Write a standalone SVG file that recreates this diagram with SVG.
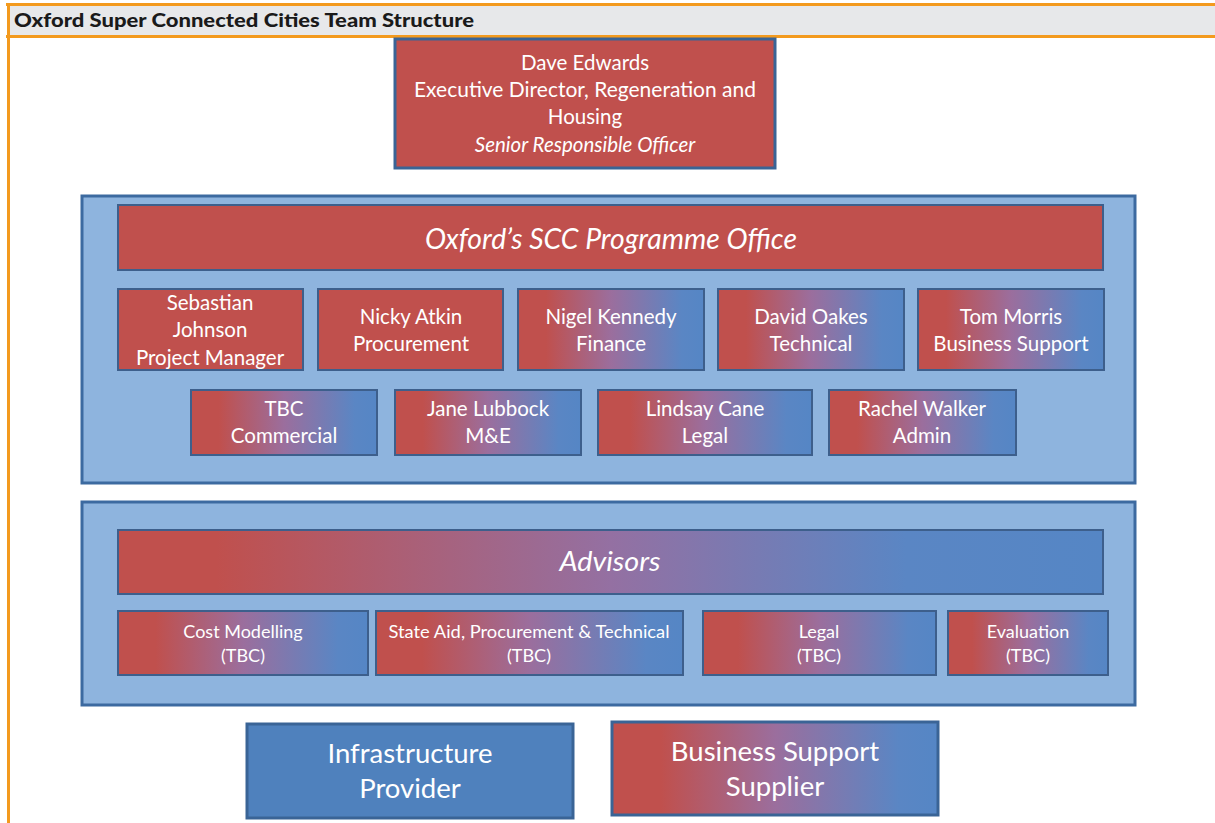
<svg xmlns="http://www.w3.org/2000/svg" width="1215" height="823" viewBox="0 0 1215 823">
<defs>
<linearGradient id="rb" x1="0" y1="0" x2="1" y2="0">
<stop offset="0" stop-color="#c0504d"/>
<stop offset="0.15" stop-color="#c0504d"/>
<stop offset="0.5" stop-color="#9b6e9d"/>
<stop offset="0.88" stop-color="#5a86c4"/>
<stop offset="1" stop-color="#5586c5"/>
</linearGradient>
<linearGradient id="rbwide" x1="0" y1="0" x2="1" y2="0">
<stop offset="0" stop-color="#c0504d"/>
<stop offset="0.1" stop-color="#c0504d"/>
<stop offset="0.5" stop-color="#9470a2"/>
<stop offset="0.8" stop-color="#5a86c4"/>
<stop offset="1" stop-color="#5586c5"/>
</linearGradient>
</defs>
<style>
.panel{fill:#8eb4de;stroke:#3c6aa0;stroke-width:3}
.red{fill:#c0504d;stroke:#3d5f8c;stroke-width:2}
.grad{fill:url(#rb);stroke:#3d5f8c;stroke-width:2}
.blue{fill:#4f81bd;stroke:#3a6496;stroke-width:3}
text{font-family:Lato,"Open Sans","Liberation Sans",sans-serif;fill:#ffffff;text-anchor:middle}
.t20{font-size:20.5px}
.t21{font-size:20.5px}
.t18{font-size:18px}
.t27{font-size:27.5px}
.it{font-style:italic}
</style>
<g id="frame">
<rect x="7" y="5" width="1210" height="31" fill="#e7e8ea"/>
<line x1="6" y1="4.5" x2="1215" y2="4.5" stroke="#f39a1e" stroke-width="3"/>
<line x1="6" y1="36.5" x2="1215" y2="36.5" stroke="#f39a1e" stroke-width="3"/>
<line x1="8.5" y1="3" x2="8.5" y2="823" stroke="#f39a1e" stroke-width="3"/>
<text x="14" y="27" style="font-size:19.5px;font-weight:900;fill:#1a1a1a;text-anchor:start" textLength="460" lengthAdjust="spacingAndGlyphs">Oxford Super Connected Cities Team Structure</text>
</g>
<g id="connectors"></g>
<g id="dave">
<rect class="red" x="395" y="39" width="380" height="129" style="stroke:#3a6496;stroke-width:3"/>
<text class="t20" x="585" y="70">Dave Edwards</text>
<text class="t20" x="585" y="97" textLength="342" lengthAdjust="spacingAndGlyphs">Executive Director, Regeneration and</text>
<text class="t20" x="585" y="124">Housing</text>
<text class="t20 it" x="585" y="152">Senior Responsible Officer</text>
</g>
<g id="programme-panel">
<rect class="panel" x="82" y="196" width="1053" height="287"/>
</g>
<g id="programme-office">
<rect class="red" x="118" y="205" width="985" height="65"/>
<text class="it" x="611" y="249" style="font-size:28px" textLength="372" lengthAdjust="spacingAndGlyphs">Oxford’s SCC Programme Office</text>
</g>
<g id="sebastian">
<rect class="red" x="118" y="289" width="185" height="81"/>
<text class="t21" x="210" y="310">Sebastian</text>
<text class="t21" x="210" y="337">Johnson</text>
<text class="t21" x="210" y="365">Project Manager</text>
</g>
<g id="nicky">
<rect class="red" x="318" y="289" width="185" height="81"/>
<text class="t21" x="411" y="324">Nicky Atkin</text>
<text class="t21" x="411" y="351">Procurement</text>
</g>
<g id="nigel">
<rect class="grad" x="518" y="289" width="186" height="81"/>
<text class="t21" x="611" y="324">Nigel Kennedy</text>
<text class="t21" x="611" y="351">Finance</text>
</g>
<g id="david">
<rect class="grad" x="718" y="289" width="186" height="81"/>
<text class="t21" x="811" y="324">David Oakes</text>
<text class="t21" x="811" y="351">Technical</text>
</g>
<g id="tom">
<rect class="grad" x="918" y="289" width="186" height="81"/>
<text class="t21" x="1011" y="324">Tom Morris</text>
<text class="t21" x="1011" y="351">Business Support</text>
</g>
<g id="tbc">
<rect class="grad" x="191" y="390" width="186" height="65"/>
<text class="t21" x="284" y="416">TBC</text>
<text class="t21" x="284" y="443">Commercial</text>
</g>
<g id="jane">
<rect class="grad" x="395" y="390" width="186" height="65"/>
<text class="t21" x="488" y="416">Jane Lubbock</text>
<text class="t21" x="488" y="443">M&amp;E</text>
</g>
<g id="lindsay">
<rect class="grad" x="598" y="390" width="214" height="65"/>
<text class="t21" x="705" y="416">Lindsay Cane</text>
<text class="t21" x="705" y="443">Legal</text>
</g>
<g id="rachel">
<rect class="grad" x="829" y="390" width="187" height="65"/>
<text class="t21" x="922" y="416">Rachel Walker</text>
<text class="t21" x="922" y="443">Admin</text>
</g>
<g id="advisors-panel">
<rect class="panel" x="82" y="502" width="1053" height="203"/>
</g>
<g id="advisors">
<rect x="118" y="530" width="985" height="64" style="fill:url(#rbwide);stroke:#3d5f8c;stroke-width:2"/>
<text class="it" x="610" y="571" style="font-size:27px" textLength="101" lengthAdjust="spacingAndGlyphs">Advisors</text>
</g>
<g id="cost-modelling">
<rect class="grad" x="118" y="611" width="250" height="64"/>
<text class="t18" x="243" y="638">Cost Modelling</text>
<text class="t18" x="243" y="662">(TBC)</text>
</g>
<g id="state-aid">
<rect class="grad" x="376" y="611" width="307" height="64"/>
<text class="t18" x="529" y="638" textLength="281" lengthAdjust="spacingAndGlyphs">State Aid, Procurement &amp; Technical</text>
<text class="t18" x="529" y="662">(TBC)</text>
</g>
<g id="legal">
<rect class="grad" x="703" y="611" width="233" height="64"/>
<text class="t18" x="819" y="638">Legal</text>
<text class="t18" x="819" y="662">(TBC)</text>
</g>
<g id="evaluation">
<rect class="grad" x="948" y="611" width="160" height="64"/>
<text class="t18" x="1028" y="638">Evaluation</text>
<text class="t18" x="1028" y="662">(TBC)</text>
</g>
<g id="infrastructure-provider">
<rect class="blue" x="247" y="724" width="326" height="94"/>
<text class="t27" x="410" y="763">Infrastructure</text>
<text class="t27" x="410" y="798">Provider</text>
</g>
<g id="business-support-supplier">
<rect class="blue" x="612" y="722" width="326" height="93" style="fill:url(#rb)"/>
<text class="t27" x="775" y="761">Business Support</text>
<text class="t27" x="775" y="796">Supplier</text>
</g>
</svg>
